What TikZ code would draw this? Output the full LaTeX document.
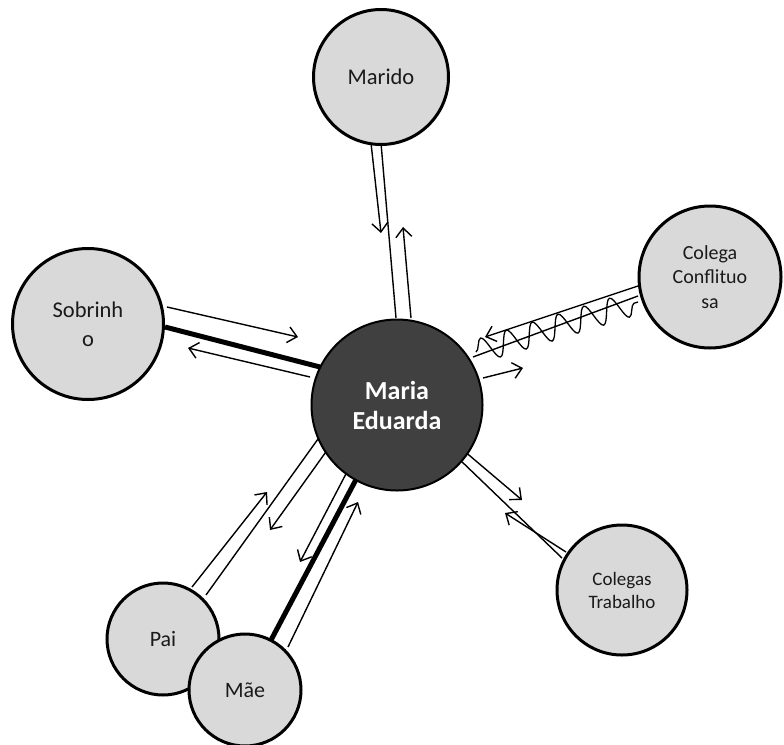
\documentclass[tikz,border=0pt]{standalone}
\usepackage{fontspec}
\setmainfont{Carlito}
\usetikzlibrary{arrows.meta,decorations.pathmorphing}
\definecolor{circfill}{HTML}{D9D9D9}
\definecolor{corefill}{HTML}{404040}
\definecolor{txt}{HTML}{1A1A1A}
\begin{document}
\begin{tikzpicture}[x=1pt,y=-1pt,
  person/.style={circle, draw=black, line width=3pt, fill=circfill, text=txt, align=center, inner sep=0pt},
  core/.style={circle, draw=black, line width=2pt, fill=corefill, text=white, align=center, inner sep=0pt,
    font=\fontsize{26}{30}\selectfont\bfseries},
  link/.style={line width=1.4pt},
  boldlink/.style={line width=5pt},
  arr/.style={line width=1.4pt, -{Straight Barb[length=9pt,width=16pt,line width=1.4pt]}},
  wave/.style={line width=1.3pt, decorate, decoration={snake, segment length=27pt, amplitude=12pt}}]
\useasboundingbox (0,0) rectangle (784,744);

% endpoints of connectors
\coordinate (m1) at (381,143); \coordinate (m2) at (396,318);
\coordinate (m3) at (371,143); \coordinate (m4) at (381,233);
\coordinate (m5) at (411,318); \coordinate (m6) at (403,227);

\coordinate (s1) at (167,307); \coordinate (s2) at (298,337);
\coordinate (s3) at (165,327); \coordinate (s4) at (320,367);
\coordinate (s5) at (310,377); \coordinate (s6) at (188,348);

\coordinate (c1) at (638,286); \coordinate (c2) at (485,337);
\coordinate (c3) at (638,296); \coordinate (c4) at (473,357);
\coordinate (c5) at (483,378); \coordinate (c6) at (523,368);
\coordinate (w1) at (476,352); \coordinate (w2) at (638,302);

\coordinate (t1) at (458,458); \coordinate (t2) at (562,558);
\coordinate (t3) at (463,450); \coordinate (t4) at (522,500);
\coordinate (t5) at (566,552); \coordinate (t6) at (505,513);

\coordinate (p1) at (206,595); \coordinate (p2) at (318,439);
\coordinate (p3) at (192,587); \coordinate (p4) at (267,492);
\coordinate (p5) at (328,449); \coordinate (p6) at (270,530);

\coordinate (a1) at (270,642); \coordinate (a2) at (360,472);
\coordinate (a3) at (348,470); \coordinate (a4) at (300,562);
\coordinate (a5) at (288,647); \coordinate (a6) at (358,502);

% connectors
\draw[link] (m1) -- (m2);
\draw[arr] (m3) -- (m4);
\draw[arr] (m5) -- (m6);

\draw[arr] (s1) -- (s2);
\draw[boldlink] (s3) -- (s4);
\draw[arr] (s5) -- (s6);

\draw[arr] (c1) -- (c2);
\draw[link] (c3) -- (c4);
\draw[wave] (w1) -- (w2);
\draw[arr] (c5) -- (c6);

\draw[link] (t1) -- (t2);
\draw[arr] (t3) -- (t4);
\draw[arr] (t5) -- (t6);

\draw[link] (p1) -- (p2);
\draw[arr] (p3) -- (p4);
\draw[arr] (p5) -- (p6);

\draw[boldlink] (a1) -- (a2);
\draw[arr] (a3) -- (a4);
\draw[arr] (a5) -- (a6);

% circles
\node[person, minimum size=135pt, font=\fontsize{22.5}{26}\selectfont] (marido) at (381,77) {Marido};
\node[person, minimum size=151pt, font=\fontsize{22.5}{29}\selectfont] (sob) at (88,324) {Sobrinh\\o};
\node[person, minimum size=142pt, font=\fontsize{20}{24.5}\selectfont] (colega) at (710,277) {Colega\\Conflituo\\sa};
\node[person, minimum size=130pt, font=\fontsize{19}{23}\selectfont] (trab) at (622,590) {Colegas\\Trabalho};
\node[person, minimum size=112pt, font=\fontsize{22}{25}\selectfont] (pai) at (163,639) {Pai};
\node[person, minimum size=112pt, font=\fontsize{22}{25}\selectfont] (mae) at (245,690) {Mãe};
\node[core, minimum size=171pt] (maria) at (397,405) {Maria\\Eduarda};
\end{tikzpicture}
\end{document}
